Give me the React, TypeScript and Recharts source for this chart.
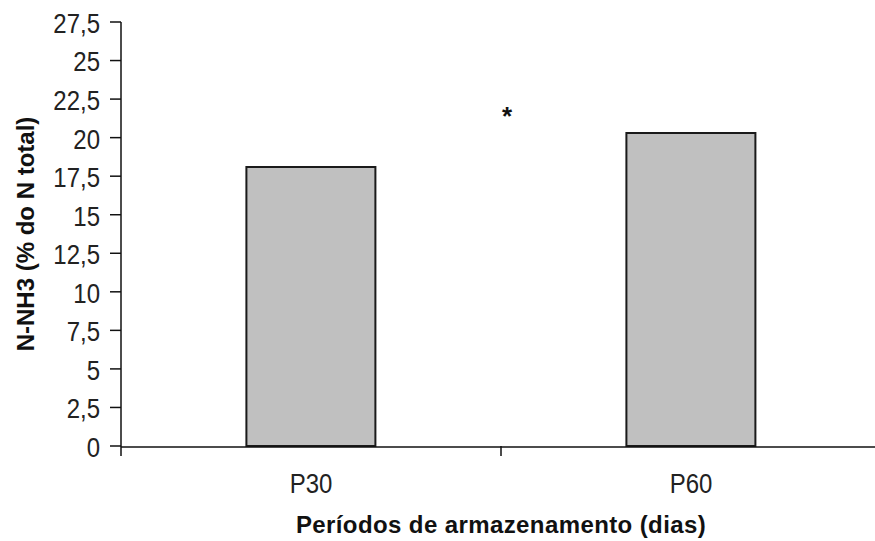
import { BarChart, Bar, XAxis, YAxis, ReferenceDot } from "recharts";

// storage periods and N-NH3 share of total N
const categories = ["P30", "P60"];
const nh3Values = [18.1, 20.3];
const yTicks = [0, 2.5, 5, 7.5, 10, 12.5, 15, 17.5, 20, 22.5, 25, 27.5];
// category boundaries on the numeric helper axis
const boundaryTicks = [0, 1, 2];
const significanceMark = { label: "*", x: 1, y: 21.7 };

const data = categories.map((name, i) => ({ name, value: nh3Values[i] }));

const FONT = "'Liberation Sans', Arial, sans-serif";
const AXIS_COLOR = "#111";

const formatTick = (v: number) => String(v).replace(".", ",");

function YTick({ x, y, payload }: any) {
  return (
    <g transform={`translate(${x},${y}) scale(1,1.15)`}>
      <text x={0} y={9.5} textAnchor="end" fontFamily={FONT} fontSize={24} fill="#222">
        {formatTick(payload.value)}
      </text>
    </g>
  );
}

function XTick({ x, payload }: any) {
  // baseline sits 47px under the axis line
  return (
    <g transform={`translate(${x},${446 + 47}) scale(1,1.15)`}>
      <text x={0} y={0} textAnchor="middle" fontFamily={FONT} fontSize={24} fill="#222">
        {payload.value}
      </text>
    </g>
  );
}

const NoTick = () => <g />;

export default function App() {
  return (
    <div
      style={{
        position: "absolute",
        left: 0,
        top: 0,
        width: 875,
        height: 541,
        overflow: "hidden",
        background: "#fff",
      }}
    >
      <BarChart
        width={885}
        height={541}
        data={data}
        margin={{ top: 22, right: 4, left: 0, bottom: 0 }}
        barCategoryGap="33%"
      >
        {/* boundary ticks between categories, stacked right on the axis line */}
        <XAxis
          xAxisId="bounds"
          type="number"
          dataKey={() => 0}
          domain={[0, 2]}
          allowDataOverflow
          ticks={boundaryTicks}
          interval={0}
          tick={<NoTick />}
          tickSize={10}
          tickLine={{ stroke: AXIS_COLOR, strokeWidth: 1.5 }}
          axisLine={false}
          height={1}
        />
        <XAxis
          xAxisId="main"
          dataKey="name"
          height={94}
          tickLine={false}
          axisLine={{ stroke: AXIS_COLOR, strokeWidth: 1.5 }}
          tick={<XTick />}
          label={{
            content: ({ viewBox }: any) => (
              <text
                x={viewBox.x + viewBox.width / 2}
                y={533}
                textAnchor="middle"
                fontFamily={FONT}
                fontSize={24}
                fontWeight="bold"
                letterSpacing={0.4}
                fill="#111"
              >
                Períodos de armazenamento (dias)
              </text>
            ),
          }}
        />
        <YAxis
          width={121}
          domain={[0, 27.5]}
          ticks={yTicks}
          interval={0}
          tickSize={11}
          tickMargin={10}
          tickLine={{ stroke: AXIS_COLOR, strokeWidth: 1.5 }}
          axisLine={{ stroke: AXIS_COLOR, strokeWidth: 1.5 }}
          tick={<YTick />}
          label={{
            content: ({ viewBox }: any) => {
              const cx = 25;
              const cy = viewBox.y + viewBox.height / 2;
              return (
                <text
                  x={cx}
                  y={cy}
                  transform={`rotate(-90 ${cx} ${cy})`}
                  textAnchor="middle"
                  dominantBaseline="central"
                  fontFamily={FONT}
                  fontSize={24}
                  fontWeight="bold"
                  fill="#111"
                >
                  N-NH3 (% do N total)
                </text>
              );
            },
          }}
        />
        <Bar
          xAxisId="main"
          dataKey="value"
          fill="#c0c0c0"
          stroke="#1a1a1a"
          strokeWidth={2}
          isAnimationActive={false}
        />
        <ReferenceDot
          xAxisId="bounds"
          x={significanceMark.x}
          y={significanceMark.y}
          r={1}
          fill="none"
          stroke="none"
          label={{
            content: ({ viewBox }: any) => (
              <text
                x={viewBox.x + viewBox.width / 2 + 6}
                y={viewBox.y + viewBox.height / 2 + 14}
                textAnchor="middle"
                fontFamily={FONT}
                fontSize={26}
                fontWeight="bold"
                fill="#111"
              >
                {significanceMark.label}
              </text>
            ),
          }}
        />
      </BarChart>
    </div>
  );
}
